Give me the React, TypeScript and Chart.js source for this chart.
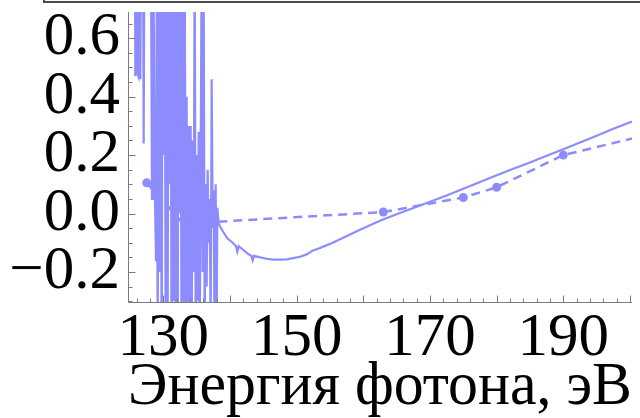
import { useEffect, useRef } from "react";
import { Chart, registerables } from "chart.js";

Chart.register(...registerables);

// Measured signal: noisy start near the edge, then a smooth curve
const solidEnergy = [
  125.7, 125.8, 125.95, 126.1, 126.25, 126.4, 126.55, 126.7, 126.9, 127.05,
  127.2, 127.5, 127.8, 128.1, 128.3, 128.45, 128.6, 128.75, 128.9, 129.0,
  129.15, 129.3, 129.45, 129.6, 129.75, 129.9, 130.05, 130.2, 130.35, 130.5,
  130.65, 130.8, 130.95, 131.1, 131.25, 131.4, 131.55, 131.7, 131.85, 132.0,
  132.15, 132.3, 132.45, 132.6, 132.75, 132.9, 133.05, 133.2, 133.35, 133.5,
  133.65, 133.8, 133.95, 134.1, 134.25, 134.4, 134.55, 134.7, 134.85, 135.0,
  135.15, 135.3, 135.45, 135.6, 135.75, 135.9, 136.05, 136.2, 136.35, 136.5,
  136.65, 136.8, 136.95, 137.1, 137.25, 137.4, 137.55, 137.7, 137.85, 138.0,
  138.1,
  138.3, 138.9, 139.6, 140.4, 140.9, 141.1, 141.3, 142.0, 142.8, 143.2,
  143.4, 143.6, 144.5, 145.5, 146.5, 147.5, 148.5, 149.5, 150.5, 151.5,
  152.0, 152.3, 153.5, 155.0, 156.5, 158.0, 159.5, 161.0, 162.5, 164.0,
  165.5, 167.5, 170.0, 172.5, 175.0, 177.5, 180.0, 182.5, 185.0, 187.5,
  190.0, 192.5, 195.0, 197.5, 200.3,
];
const solidSignal = [
  1.2, 0.47, 1.1, 0.48, 0.47, 1.3, 0.46, 1.2, 1.3, 0.24,
  1.2, 1.3, 0.9, 1.1, 0.05, 0.9, 0.6, 0.05, -0.16, 1.2,
  -0.5, 1.0, -0.2, 0.9, -0.6, 1.1, 0.2, 1.0, -0.5, 0.8,
  -0.4, 1.2, 0.1, 0.9, -0.7, 1.0, -0.3, 0.95, -0.5, 0.7,
  -0.6, 1.1, 0.0, 0.9, -0.8, 0.8, -0.4, 1.0, -0.35, 0.4,
  -0.6, 0.3, -0.5, 0.3, -0.4, 0.25, -0.2, 0.9, -0.45, 0.2,
  -0.3, 0.28, -0.5, 0.15, 0.9, -0.2, 0.8, -0.4, 0.1, -0.25,
  0.15, -0.1, 0.05, -0.4, 0.46, -0.05, 0.08, -0.5, 0.1, -0.4,
  0.02,
  -0.035, -0.06, -0.085, -0.1, -0.112, -0.13, -0.112, -0.125, -0.14, -0.145,
  -0.16, -0.145, -0.15, -0.155, -0.158, -0.158, -0.157, -0.153, -0.148, -0.14,
  -0.133, -0.128, -0.118, -0.104, -0.088, -0.072, -0.056, -0.04, -0.025, -0.011,
  0.002, 0.019, 0.04, 0.062, 0.085, 0.108, 0.131, 0.153, 0.175, 0.198,
  0.22, 0.243, 0.266, 0.29, 0.315,
];

// Computed values, joined by a dashed line
const dashedEnergy = [127.5, 133.0, 163.0, 175.0, 180.0, 190.0, 210.0];
const dashedSignal = [0.105, -0.035, 0.005, 0.055, 0.09, 0.2, 0.31];
const dashedMarker = [4.5, 0, 4.5, 4.5, 4.5, 4.5, 4.5];

const xTickLabels = [130, 150, 170, 190];
const yTickLabels = [-0.2, 0.0, 0.2, 0.4, 0.6];

const X_MIN = 124.7;
const X_MAX = 200.3;
const Y_MIN = -0.303;
const Y_MAX = 0.69;

const LINE = "rgb(140,140,255)";
const AXIS = "#7a7a7a";
const FONT = "'Liberation Serif', 'Times New Roman', serif";
const FONT_SIZE = 61;

const fmtY = (v: number) => {
  const s = Math.abs(v).toFixed(1);
  return v < -1e-9 ? "\u2212" + s : s;
};

const noScalePadding = (s: any) => {
  s.paddingTop = 0;
  s.paddingBottom = 0;
  s.paddingLeft = 0;
  s.paddingRight = 0;
};

// Mathematica-style frame: left and bottom axes with inward ticks
const inwardAxes = {
  id: "inwardAxes",
  afterDraw(chart: any) {
    const { ctx, chartArea: a, scales } = chart;
    const x = scales.x;
    const y = scales.y;
    ctx.save();
    ctx.strokeStyle = AXIS;
    ctx.lineWidth = 1;
    ctx.beginPath();
    const L = Math.round(a.left) + 0.5;
    const B = Math.round(a.bottom) + 0.5;
    ctx.moveTo(L, a.top);
    ctx.lineTo(L, B);
    ctx.lineTo(a.right, B);
    for (let e = 126; e <= 200.001; e += 2) {
      const px = Math.round(x.getPixelForValue(e)) + 0.5;
      const len = Math.abs(e % 10) < 1e-6 ? 7 : 4;
      ctx.moveTo(px, B);
      ctx.lineTo(px, B - len);
    }
    for (let k = -6; k <= 13; k++) {
      const v = k * 0.05;
      if (v < Y_MIN || v > Y_MAX) continue;
      const py = Math.round(y.getPixelForValue(v)) + 0.5;
      const len = k % 4 === 0 ? 7 : 4;
      ctx.moveTo(L, py);
      ctx.lineTo(L + len, py);
    }
    ctx.stroke();

    // edge of the panel above
    ctx.strokeStyle = "#4a4a4a";
    ctx.lineWidth = 2;
    ctx.beginPath();
    ctx.moveTo(44, 0);
    ctx.lineTo(44, 2);
    ctx.lineTo(chart.width, 2);
    ctx.stroke();
    ctx.restore();
  },
};

export default function App() {
  const ref = useRef<HTMLCanvasElement | null>(null);

  useEffect(() => {
    if (!ref.current) return;
    const solid = solidEnergy.map((e, i) => ({ x: e, y: solidSignal[i] }));
    const dashed = dashedEnergy.map((e, i) => ({ x: e, y: dashedSignal[i] }));

    const chart = new Chart(ref.current, {
      type: "line",
      data: {
        datasets: [
          {
            data: solid,
            borderColor: LINE,
            borderWidth: 2.2,
            pointRadius: 0,
            tension: 0,
            fill: false,
          },
          {
            data: dashed,
            borderColor: LINE,
            borderWidth: 2.5,
            borderDash: [9, 6],
            pointRadius: dashedMarker,
            pointBackgroundColor: LINE,
            pointBorderColor: LINE,
            pointBorderWidth: 0,
            tension: 0,
            fill: false,
          },
        ],
      },
      options: {
        animation: false,
        responsive: true,
        maintainAspectRatio: false,
        events: [],
        layout: { padding: { top: 12, right: 8, left: 0, bottom: 0 } },
        plugins: {
          legend: { display: false },
          tooltip: { enabled: false },
          title: { display: false },
        },
        scales: {
          x: {
            type: "linear",
            min: X_MIN,
            max: X_MAX,
            afterBuildTicks: (s: any) => {
              s.ticks = xTickLabels.map((v) => ({ value: v }));
            },
            afterFit: (s: any) => {
              s.height = 116;
              noScalePadding(s);
            },
            grid: { display: false, drawTicks: false },
            border: { display: false },
            ticks: {
              color: "#000",
              padding: 0,
              maxRotation: 0,
              autoSkip: false,
              font: { family: FONT, size: FONT_SIZE },
              callback: (v: any) => String(v),
            },
            title: {
              display: true,
              text: "Энергия фотона, эВ",
              color: "#000",
              font: { family: FONT, size: FONT_SIZE, lineHeight: 1 },
              padding: { top: 0, bottom: 0 },
            },
          },
          y: {
            type: "linear",
            min: Y_MIN,
            max: Y_MAX,
            afterBuildTicks: (s: any) => {
              s.ticks = yTickLabels.map((v) => ({ value: v }));
            },
            afterFit: (s: any) => {
              s.width = 128;
              noScalePadding(s);
            },
            grid: { display: false, drawTicks: false },
            border: { display: false },
            ticks: {
              color: "#000",
              padding: 8,
              autoSkip: false,
              font: { family: FONT, size: FONT_SIZE },
              callback: (v: any) => fmtY(Number(v)),
            },
          },
        },
      },
      plugins: [inwardAxes],
    });
    return () => chart.destroy();
  }, []);

  return (
    <div
      style={{
        position: "fixed",
        left: 0,
        top: 0,
        width: 640,
        height: 418,
        background: "#fff",
      }}
    >
      <canvas ref={ref} />
    </div>
  );
}
